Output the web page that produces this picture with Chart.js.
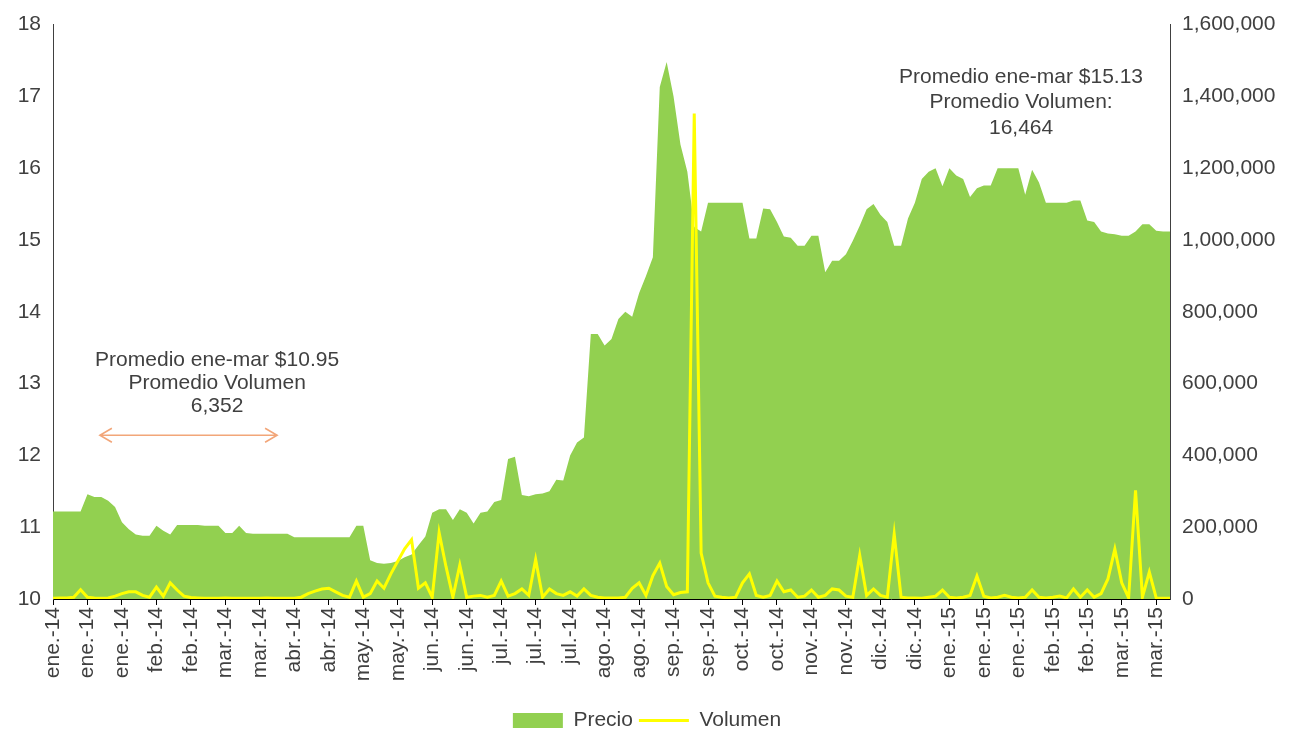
<!DOCTYPE html>
<html lang="es">
<head>
    <meta charset="UTF-8">
    <title>Precio y Volumen</title>
    <script src="https://cdn.jsdelivr.net/npm/chart.js@4.4.1/dist/chart.umd.min.js"></script>
    <style>
        body {
            margin: 0;
            background: #ffffff;
        }
        .chart-container {
            position: relative;
            width: 1294px;
            height: 732px;
        }
    </style>
</head>
<body>
    <div class="chart-container">
        <canvas id="precioChart"></canvas>
    </div>

    <script>
        // etiquetas del eje x (una cada 5 puntos)
        const etiquetas = [
            'ene.-14', 'ene.-14', 'ene.-14', 'feb.-14', 'feb.-14', 'mar.-14', 'mar.-14',
            'abr.-14', 'abr.-14', 'may.-14', 'may.-14', 'jun.-14', 'jun.-14',
            'jul.-14', 'jul.-14', 'jul.-14', 'ago.-14', 'ago.-14', 'sep.-14', 'sep.-14',
            'oct.-14', 'oct.-14', 'nov.-14', 'nov.-14', 'dic.-14', 'dic.-14',
            'ene.-15', 'ene.-15', 'ene.-15', 'feb.-15', 'feb.-15', 'mar.-15', 'mar.-15'
        ];
        const cadaN = 5;

        // precio (eje izquierdo)
        const precio = [
            11.22, 11.22, 11.22, 11.22, 11.22, 11.46, 11.42, 11.42, 11.37, 11.28,
            11.07, 10.97, 10.90, 10.88, 10.88, 11.02, 10.95, 10.90, 11.03, 11.03,
            11.03, 11.03, 11.02, 11.02, 11.02, 10.92, 10.92, 11.02, 10.92, 10.91,
            10.91, 10.91, 10.91, 10.91, 10.91, 10.86, 10.86, 10.86, 10.86, 10.86,
            10.86, 10.86, 10.86, 10.86, 11.02, 11.02, 10.54, 10.50, 10.49, 10.50,
            10.53, 10.58, 10.62, 10.75, 10.87, 11.20, 11.25, 11.25, 11.10, 11.25,
            11.20, 11.05, 11.20, 11.22, 11.35, 11.38, 11.95, 11.98, 11.45, 11.43,
            11.46, 11.47, 11.50, 11.66, 11.65, 12.00, 12.18, 12.25, 13.69, 13.69,
            13.53, 13.62, 13.90, 14.00, 13.93, 14.26, 14.50, 14.76, 17.13, 17.48,
            17.00, 16.33, 15.95, 15.18, 15.12, 15.52, 15.52, 15.52, 15.52, 15.52,
            15.52, 15.02, 15.02, 15.44, 15.43, 15.25, 15.05, 15.03, 14.92, 14.92,
            15.06, 15.06, 14.55, 14.71, 14.71, 14.80, 14.99, 15.20, 15.43, 15.50,
            15.35, 15.25, 14.92, 14.92, 15.30, 15.52, 15.85, 15.95, 16.00, 15.75,
            16.00, 15.90, 15.85, 15.60, 15.72, 15.76, 15.76, 16.00, 16.00, 16.00,
            16.00, 15.63, 15.98, 15.80, 15.52, 15.52, 15.52, 15.52, 15.55, 15.55,
            15.27, 15.25, 15.12, 15.09, 15.08, 15.06, 15.06, 15.12, 15.22, 15.22,
            15.13, 15.12, 15.12
        ];

        // volumen (eje derecho)
        const volumen = [
            2000, 3000, 3000, 5000, 26000, 5000, 3000, 2000, 3000, 8000,
            15000, 20000, 20000, 10000, 5000, 33000, 8000, 45000, 25000, 8000,
            4000, 3000, 2000, 2000, 2000, 3000, 2000, 2000, 2000, 2000,
            2000, 3000, 2000, 2000, 2000, 2000, 5000, 15000, 22000, 28000,
            30000, 20000, 10000, 5000, 50000, 5000, 15000, 50000, 30000, 70000,
            105000, 140000, 165000, 30000, 45000, 5000, 185000, 90000, 5000, 95000,
            5000, 8000, 10000, 5000, 10000, 50000, 8000, 15000, 28000, 10000,
            110000, 5000, 28000, 15000, 10000, 20000, 8000, 28000, 10000, 5000,
            3000, 3000, 3000, 5000, 30000, 45000, 10000, 65000, 100000, 35000,
            12000, 18000, 20000, 1352000, 128000, 45000, 8000, 5000, 3000, 5000,
            45000, 70000, 10000, 5000, 10000, 50000, 20000, 25000, 5000, 8000,
            25000, 5000, 10000, 28000, 25000, 8000, 5000, 122000, 10000, 28000,
            10000, 5000, 181000, 5000, 3000, 3000, 2000, 5000, 8000, 25000,
            5000, 3000, 5000, 10000, 64000, 8000, 3000, 5000, 10000, 5000,
            3000, 5000, 25000, 5000, 3000, 5000, 8000, 3000, 28000, 5000,
            25000, 5000, 15000, 56000, 139000, 45000, 3000, 303000, 5000, 75000,
            3000, 2000, 2000
        ];

        // textos de promedio
        const notaInicio = ['Promedio ene-mar $10.95', 'Promedio Volumen', '6,352'];
        const notaFin = ['Promedio ene-mar $15.13', 'Promedio Volumen:', '16,464'];

        // cada punto lleva el mes de la etiqueta anterior
        const categorias = precio.map((_, i) => etiquetas[Math.floor(i / cadaN)] || etiquetas[etiquetas.length - 1]);

        const fuente = "'Liberation Sans', Arial, sans-serif";
        const colorTexto = '#404040';

        // notas y flecha dibujadas sobre las escalas
        const notasPlugin = {
            id: 'notas',
            afterLayout(chart) {
                // bajar un poco la leyenda, como en el original
                chart.legend.top += 9;
                chart.legend.bottom += 9;
            },
            afterDatasetsDraw(chart) {
                const { ctx, scales: { x, y } } = chart;
                ctx.save();
                ctx.font = '21px ' + fuente;
                ctx.fillStyle = colorTexto;
                ctx.textAlign = 'center';
                ctx.textBaseline = 'middle';

                const escribir = (lineas, idx, valores) => {
                    lineas.forEach((t, k) => {
                        ctx.fillText(t, x.getPixelForValue(idx), y.getPixelForValue(valores[k]));
                    });
                };
                escribir(notaInicio, 23.8, [13.32, 13.0, 12.68]);
                escribir(notaFin, 140.4, [17.27, 16.92, 16.56]);

                // flecha doble
                const x1 = x.getPixelForValue(6.8);
                const x2 = x.getPixelForValue(32.5);
                const yf = y.getPixelForValue(12.28);
                ctx.strokeStyle = '#F2A679';
                ctx.lineWidth = 1.6;
                ctx.beginPath();
                ctx.moveTo(x1, yf);
                ctx.lineTo(x2, yf);
                ctx.moveTo(x1 + 12, yf - 7);
                ctx.lineTo(x1, yf);
                ctx.lineTo(x1 + 12, yf + 7);
                ctx.moveTo(x2 - 12, yf - 7);
                ctx.lineTo(x2, yf);
                ctx.lineTo(x2 - 12, yf + 7);
                ctx.stroke();
                ctx.restore();
            }
        };

        new Chart(document.getElementById('precioChart'), {
            type: 'line',
            data: {
                labels: categorias,
                datasets: [{
                    label: 'Precio',
                    data: precio,
                    yAxisID: 'y',
                    backgroundColor: '#92D050',
                    borderColor: '#92D050',
                    borderWidth: 0,
                    fill: 'start',
                    pointRadius: 0,
                    pointStyle: 'rect',
                    tension: 0,
                    order: 1
                }, {
                    label: 'Volumen',
                    data: volumen,
                    yAxisID: 'y1',
                    borderColor: '#FFFF00',
                    backgroundColor: '#FFFF00',
                    borderWidth: 3,
                    fill: false,
                    pointRadius: 0,
                    pointStyle: 'line',
                    tension: 0,
                    order: 0
                }]
            },
            options: {
                responsive: true,
                maintainAspectRatio: false,
                animation: false,
                layout: {
                    padding: { top: 22, left: 0, right: 0, bottom: 0 }
                },
                plugins: {
                    tooltip: { enabled: false },
                    legend: {
                        position: 'bottom',
                        labels: {
                            usePointStyle: true,
                            pointStyleWidth: 50,
                            boxWidth: 50,
                            boxHeight: 15,
                            padding: 6,
                            color: colorTexto,
                            font: { family: fuente, size: 21 },
                            sort: (a, b) => a.datasetIndex - b.datasetIndex
                        }
                    }
                },
                scales: {
                    x: {
                        grid: {
                            display: true,
                            drawOnChartArea: false,
                            drawTicks: true,
                            tickLength: 6,
                            color: '#000000'
                        },
                        border: { display: true, color: '#000000', width: 1 },
                        ticks: {
                            autoSkip: false,
                            minRotation: 90,
                            maxRotation: 90,
                            padding: 2,
                            color: colorTexto,
                            font: { family: fuente, size: 21 },
                            callback: function (value, index) {
                                return index % cadaN === 0 ? etiquetas[index / cadaN] : null;
                            }
                        },
                        afterFit: (scale) => { scale.height = 96; }
                    },
                    y: {
                        position: 'left',
                        min: 10,
                        max: 18,
                        grid: { display: true, drawOnChartArea: false, drawTicks: false },
                        border: { display: true, color: '#404040', width: 1 },
                        ticks: {
                            stepSize: 1,
                            padding: 12,
                            color: colorTexto,
                            font: { family: fuente, size: 21 }
                        },
                        afterFit: (scale) => { scale.width = 53; }
                    },
                    y1: {
                        position: 'right',
                        min: 0,
                        max: 1600000,
                        grid: { display: true, drawOnChartArea: false, drawTicks: false },
                        border: { display: true, color: '#404040', width: 1 },
                        ticks: {
                            stepSize: 200000,
                            padding: 12,
                            color: colorTexto,
                            font: { family: fuente, size: 21 },
                            callback: (v) => v.toLocaleString('en-US')
                        },
                        afterFit: (scale) => { scale.width = 124; }
                    }
                }
            },
            plugins: [notasPlugin]
        });
    </script>
</body>
</html>
